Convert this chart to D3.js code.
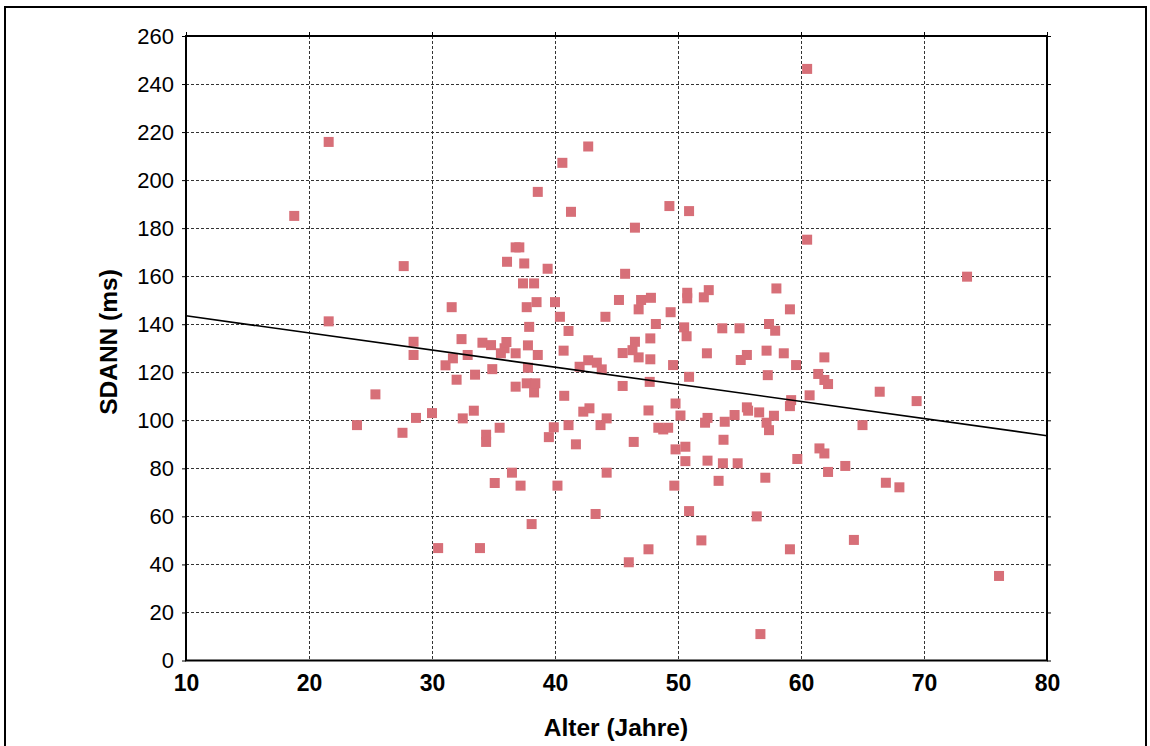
<!DOCTYPE html>
<html><head><meta charset="utf-8">
<script src="https://cdn.jsdelivr.net/npm/d3@7"></script>
<style>html,body{margin:0;padding:0;background:#fff;}svg{display:block;}</style>
</head><body>
<script>
const ages = [18.8,21.6,21.6,23.9,25.4,27.6,27.7,28.5,28.5,28.7,30.0,30.5,31.1,31.6,31.7,32.0,32.4,32.5,32.9,33.4,33.5,33.9,34.1,34.4,34.4,34.8,34.9,35.1,35.5,35.6,35.9,36.05,36.1,36.5,36.8,36.8,36.8,37.1,37.2,37.5,37.4,37.7,37.7,37.8,37.8,37.9,38.1,38.3,38.3,38.4,38.5,38.6,38.6,39.4,39.5,39.9,40.0,40.2,40.4,40.6,40.7,40.75,41.1,41.1,41.3,41.7,42.0,42.3,42.8,42.7,42.7,43.3,43.4,43.7,43.8,44.1,44.2,44.2,45.2,45.5,45.5,45.7,46.0,46.3,46.4,46.5,46.5,46.8,46.8,47.0,47.6,47.6,47.7,47.75,47.75,47.8,48.2,48.4,48.8,49.2,49.3,49.4,49.6,49.7,49.8,49.8,50.2,50.5,50.6,50.6,50.7,50.75,50.75,50.9,50.9,50.9,51.9,52.1,52.2,52.35,52.4,52.4,52.5,53.3,53.6,53.65,53.7,53.8,54.6,54.85,55.0,55.1,55.6,55.6,55.7,56.4,56.6,56.7,57.1,57.2,57.2,57.3,57.4,57.4,57.8,57.9,58.0,58.6,59.1,59.1,59.1,59.2,59.6,59.7,60.5,60.5,60.7,61.4,61.5,61.9,61.9,61.9,62.2,62.2,63.6,64.3,65.0,66.4,66.9,68.0,69.4,73.5,76.1];
const sdann = [185.1,215.9,141.2,98.0,110.8,94.8,164.2,132.7,127.2,101.0,103.0,46.8,122.9,147.1,125.8,116.9,133.8,100.8,127.2,104.0,119.0,46.8,132.3,94.0,91.0,131.3,121.3,73.9,96.9,127.9,130.0,132.6,166.0,78.2,114.0,127.9,172.0,172.0,72.8,165.3,157.0,147.1,115.4,131.2,121.9,138.9,56.8,157.0,111.6,115.4,149.2,127.2,195.1,163.1,93.0,97.1,149.2,72.8,143.1,207.2,129.0,110.2,137.2,98.0,186.8,90.0,122.3,103.6,105.0,214.0,125.0,61.0,124.0,98.0,121.2,143.1,100.8,78.2,150.1,128.0,114.3,161.0,40.9,129.2,91.0,132.7,180.2,146.2,126.2,150.1,104.1,46.3,116.0,134.1,125.4,151.0,140.1,96.9,96.2,96.9,189.2,145.0,123.0,72.8,107.0,87.9,102.0,138.7,89.0,83.0,135.0,153.1,150.8,118.1,187.1,62.2,50.0,151.2,99.0,127.9,101.0,83.2,154.2,74.8,138.3,82.1,91.9,99.4,102.2,82.1,138.3,125.1,127.2,105.4,104.0,60.0,103.3,11.0,76.1,129.0,99.0,118.8,140.1,95.9,101.9,137.3,154.9,127.9,146.2,105.9,46.3,108.4,123.0,83.9,246.3,175.2,110.4,119.3,88.3,126.2,116.8,86.2,115.1,78.5,81.0,50.2,98.0,111.9,74.0,72.1,108.0,159.8,35.2];
const xTicks = [10,20,30,40,50,60,70,80];
const yTicks = [0,20,40,60,80,100,120,140,160,180,200,220,240,260];
const fitX = [10, 80];
const fitY = [143.5, 93.6];
const xTitle = "Alter (Jahre)";
const yTitle = "SDANN (ms)";

const W = 1150, H = 746;
const L = 186, R = 1047, T = 36, B = 660.5;
const FONT = "'Liberation Sans', Arial, sans-serif";
const svg = d3.select("body").append("svg").attr("width", W).attr("height", H);
svg.append("rect").attr("x",0).attr("y",0).attr("width",W).attr("height",H).attr("fill","#fff");
svg.append("rect").attr("x",5).attr("y",7).attr("width",1141).attr("height",800)
  .attr("fill","none").attr("stroke","#000").attr("stroke-width",2);

const x = d3.scaleLinear().domain([10,80]).range([L,R]);
const y = d3.scaleLinear().domain([0,260]).range([B,T]);

// grid
const grid = svg.append("g").attr("stroke","#333").attr("stroke-width",1).attr("stroke-dasharray","3,2");
grid.selectAll("line.v").data(xTicks.slice(1,-1)).join("line")
  .attr("x1",d=>Math.round(x(d))+0.5).attr("x2",d=>Math.round(x(d))+0.5).attr("y1",T).attr("y2",B);
grid.selectAll("line.h").data(yTicks.slice(1,-1)).join("line").attr("class","h")
  .attr("y1",d=>Math.round(y(d))+0.5).attr("y2",d=>Math.round(y(d))+0.5).attr("x1",L).attr("x2",R);

// axes
const ax = svg.append("g").attr("font-family",FONT);
const yAxis = ax.append("g").attr("transform",`translate(${L},0)`)
  .call(d3.axisLeft(y).tickValues(yTicks).tickSize(4).tickPadding(8));
yAxis.select(".domain").remove();
yAxis.selectAll(".tick line").attr("stroke","#000");
yAxis.selectAll("text").attr("font-size",22).attr("fill","#000").attr("font-family",FONT);
const yAxisR = ax.append("g").attr("transform",`translate(${R},0)`)
  .call(d3.axisRight(y).tickValues(yTicks).tickSize(4).tickFormat(""));
yAxisR.select(".domain").remove();
yAxisR.selectAll(".tick line").attr("stroke","#000");
const xAxis = ax.append("g").attr("transform",`translate(0,${B})`)
  .call(d3.axisBottom(x).tickValues(xTicks).tickSize(0).tickPadding(14));
xAxis.select(".domain").remove();
xAxis.selectAll("text").attr("font-size",23).attr("font-weight","bold").attr("fill","#000").attr("font-family",FONT);
const xAxisT = ax.append("g").attr("transform",`translate(0,${T})`)
  .call(d3.axisTop(x).tickValues(xTicks).tickSize(4).tickFormat(""));
xAxisT.select(".domain").remove();
xAxisT.selectAll(".tick line").attr("stroke","#000");

// points
const pts = ages.map((a,i)=>({a, s: sdann[i]}));
svg.append("g").selectAll("rect").data(pts).join("rect")
  .attr("x",d=>x(d.a)-5).attr("y",d=>y(d.s)-5).attr("width",10).attr("height",10)
  .attr("fill","#d76f78");

// fit line
svg.append("line").attr("x1",x(fitX[0])).attr("y1",y(fitY[0])).attr("x2",x(fitX[1])).attr("y2",y(fitY[1]))
  .attr("stroke","#000").attr("stroke-width",1.6);

// frame
svg.append("rect").attr("x",L).attr("y",T).attr("width",R-L).attr("height",B-T)
  .attr("fill","none").attr("stroke","#000").attr("stroke-width",2);

// titles
svg.append("text").attr("x",616).attr("y",736).attr("text-anchor","middle")
  .attr("font-family",FONT).attr("font-size",24.5).attr("font-weight","bold").text(xTitle);
svg.append("text").attr("transform",`translate(117,342) rotate(-90)`).attr("text-anchor","middle")
  .attr("font-family",FONT).attr("font-size",24.5).attr("font-weight","bold").text(yTitle);
</script>
</body></html>
